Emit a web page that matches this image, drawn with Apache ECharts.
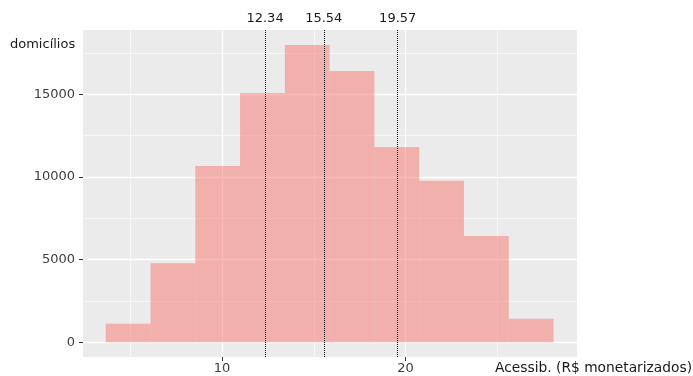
<!DOCTYPE html>
<html>
<head>
<meta charset="utf-8">
<script src="https://cdn.jsdelivr.net/npm/echarts@6/dist/echarts.min.js"></script>
<style>html,body{margin:0;padding:0;background:#fff;}#c{width:693px;height:376px;}</style>
</head>
<body>
<div id="c"></div>
<script>
var binEdges = [3.66, 6.10, 8.54, 10.98, 13.42, 15.86, 18.30, 20.74, 23.18, 25.62, 28.06];
var counts = [1125, 4780, 10660, 15070, 17980, 16400, 11810, 9770, 6430, 1430];
var quantiles = [12.34, 15.54, 19.57];
var xMajorTicks = [10, 20];
var xMinorTicks = [5, 15, 25];
var yMajorTicks = [0, 5000, 10000, 15000];
var yMinorTicks = [2500, 7500, 12500, 17500];
var yTitle = 'domicílios';
var xTitle = 'Acessib. (R$ monetarizados)';

var bins = counts.map(function (c, i) { return [binEdges[i], binEdges[i + 1], c]; });
var FONT = 'DejaVu Sans';
var X_MIN = 2.42, X_MAX = 29.34, Y_MIN = -889, Y_MAX = 18882;
function plain(v) { return String(v); }

var chart = echarts.init(document.getElementById('c'));
chart.setOption({
  animation: false,
  backgroundColor: '#ffffff',
  grid: { left: 83, right: 116, top: 30, bottom: 19, show: true, backgroundColor: '#EBEBEB', borderWidth: 0 },
  xAxis: [
    {
      type: 'value', min: X_MIN, max: X_MAX,
      axisLine: { show: false, onZero: false },
      axisTick: { show: true, length: 4, customValues: xMajorTicks, lineStyle: { color: '#333333', width: 1 } },
      axisLabel: { customValues: xMajorTicks, formatter: plain, color: '#3d3d3d', fontSize: 13, fontFamily: FONT, margin: 5 },
      splitLine: { show: true, lineStyle: { color: '#ffffff', width: 1.3 } }
    },
    {
      type: 'value', min: X_MIN, max: X_MAX, position: 'bottom',
      axisLine: { show: false, onZero: false },
      axisTick: { show: false, customValues: xMinorTicks },
      axisLabel: { show: false, customValues: xMinorTicks },
      splitLine: { show: true, lineStyle: { color: '#ffffff', width: 0.6 } }
    }
  ],
  yAxis: [
    {
      type: 'value', min: Y_MIN, max: Y_MAX,
      axisLine: { show: false, onZero: false },
      axisTick: { show: true, length: 4, customValues: yMajorTicks, lineStyle: { color: '#333333', width: 1 } },
      axisLabel: { customValues: yMajorTicks, formatter: plain, color: '#3d3d3d', fontSize: 13, fontFamily: FONT, margin: 8 },
      splitLine: { show: true, lineStyle: { color: '#ffffff', width: 1.3 } }
    },
    {
      type: 'value', min: Y_MIN, max: Y_MAX, position: 'left',
      axisLine: { show: false, onZero: false },
      axisTick: { show: false, customValues: yMinorTicks },
      axisLabel: { show: false, customValues: yMinorTicks },
      splitLine: { show: true, lineStyle: { color: '#ffffff', width: 0.6 } }
    }
  ],
  graphic: [
    { type: 'text', left: 10, top: 38, style: { text: yTitle, font: '13px "DejaVu Sans"', fill: '#1a1a1a' } },
    { type: 'text', left: 495, top: 361, style: { text: xTitle, font: '13.8px "DejaVu Sans"', fill: '#1a1a1a' } }
  ],
  series: [
    {
      type: 'custom',
      xAxisIndex: 0, yAxisIndex: 0,
      encode: { x: [0, 1], y: 2 },
      data: bins,
      renderItem: function (params, api) {
        var p0 = api.coord([api.value(0), 0]);
        var p1 = api.coord([api.value(1), api.value(2)]);
        return {
          type: 'rect',
          shape: { x: p0[0], y: p1[1], width: p1[0] - p0[0], height: p0[1] - p1[1] },
          style: { fill: 'rgba(248,118,109,0.5)' }
        };
      },
      markLine: {
        silent: true,
        symbol: ['none', 'none'],
        lineStyle: { type: 'dotted', color: '#000000', width: 1 },
        label: { show: true, position: 'end', formatter: function (p) { return p.value.toFixed(2); }, color: '#1a1a1a', fontSize: 13, fontFamily: FONT, distance: 5 },
        data: quantiles.map(function (q) { return { xAxis: q }; })
      }
    }
  ]
});
</script>
</body>
</html>
